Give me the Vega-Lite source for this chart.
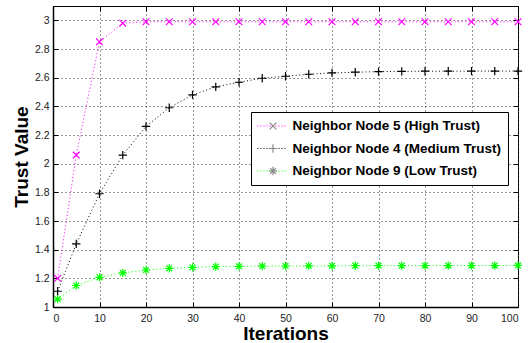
{
  "$schema": "https://vega.github.io/schema/vega-lite/v6.json",
  "width": 465,
  "height": 301,
  "autosize": "none",
  "padding": {"left": 53, "top": 6, "right": 11, "bottom": 36},
  "background": "white",
  "config": {
    "view": {"stroke": "black", "strokeWidth": 1},
    "font": "Liberation Sans"
  },
  "data": {
    "values": [
      {"series": "Neighbor Node 5 (High Trust)", "iter": 1, "trust": 1.2},
      {"series": "Neighbor Node 5 (High Trust)", "iter": 5, "trust": 2.06},
      {"series": "Neighbor Node 5 (High Trust)", "iter": 10, "trust": 2.85},
      {"series": "Neighbor Node 5 (High Trust)", "iter": 15, "trust": 2.98},
      {"series": "Neighbor Node 5 (High Trust)", "iter": 20, "trust": 2.99},
      {"series": "Neighbor Node 5 (High Trust)", "iter": 25, "trust": 2.99},
      {"series": "Neighbor Node 5 (High Trust)", "iter": 30, "trust": 2.99},
      {"series": "Neighbor Node 5 (High Trust)", "iter": 35, "trust": 2.99},
      {"series": "Neighbor Node 5 (High Trust)", "iter": 40, "trust": 2.99},
      {"series": "Neighbor Node 5 (High Trust)", "iter": 45, "trust": 2.99},
      {"series": "Neighbor Node 5 (High Trust)", "iter": 50, "trust": 2.99},
      {"series": "Neighbor Node 5 (High Trust)", "iter": 55, "trust": 2.99},
      {"series": "Neighbor Node 5 (High Trust)", "iter": 60, "trust": 2.99},
      {"series": "Neighbor Node 5 (High Trust)", "iter": 65, "trust": 2.99},
      {"series": "Neighbor Node 5 (High Trust)", "iter": 70, "trust": 2.99},
      {"series": "Neighbor Node 5 (High Trust)", "iter": 75, "trust": 2.99},
      {"series": "Neighbor Node 5 (High Trust)", "iter": 80, "trust": 2.99},
      {"series": "Neighbor Node 5 (High Trust)", "iter": 85, "trust": 2.99},
      {"series": "Neighbor Node 5 (High Trust)", "iter": 90, "trust": 2.99},
      {"series": "Neighbor Node 5 (High Trust)", "iter": 95, "trust": 2.99},
      {"series": "Neighbor Node 5 (High Trust)", "iter": 100, "trust": 2.99},
      {"series": "Neighbor Node 4 (Medium Trust)", "iter": 1, "trust": 1.11},
      {"series": "Neighbor Node 4 (Medium Trust)", "iter": 5, "trust": 1.44},
      {"series": "Neighbor Node 4 (Medium Trust)", "iter": 10, "trust": 1.79},
      {"series": "Neighbor Node 4 (Medium Trust)", "iter": 15, "trust": 2.06},
      {"series": "Neighbor Node 4 (Medium Trust)", "iter": 20, "trust": 2.26},
      {"series": "Neighbor Node 4 (Medium Trust)", "iter": 25, "trust": 2.39},
      {"series": "Neighbor Node 4 (Medium Trust)", "iter": 30, "trust": 2.48},
      {"series": "Neighbor Node 4 (Medium Trust)", "iter": 35, "trust": 2.536},
      {"series": "Neighbor Node 4 (Medium Trust)", "iter": 40, "trust": 2.568},
      {"series": "Neighbor Node 4 (Medium Trust)", "iter": 45, "trust": 2.596},
      {"series": "Neighbor Node 4 (Medium Trust)", "iter": 50, "trust": 2.61},
      {"series": "Neighbor Node 4 (Medium Trust)", "iter": 55, "trust": 2.624},
      {"series": "Neighbor Node 4 (Medium Trust)", "iter": 60, "trust": 2.633},
      {"series": "Neighbor Node 4 (Medium Trust)", "iter": 65, "trust": 2.638},
      {"series": "Neighbor Node 4 (Medium Trust)", "iter": 70, "trust": 2.642},
      {"series": "Neighbor Node 4 (Medium Trust)", "iter": 75, "trust": 2.644},
      {"series": "Neighbor Node 4 (Medium Trust)", "iter": 80, "trust": 2.645},
      {"series": "Neighbor Node 4 (Medium Trust)", "iter": 85, "trust": 2.645},
      {"series": "Neighbor Node 4 (Medium Trust)", "iter": 90, "trust": 2.646},
      {"series": "Neighbor Node 4 (Medium Trust)", "iter": 95, "trust": 2.646},
      {"series": "Neighbor Node 4 (Medium Trust)", "iter": 100, "trust": 2.646},
      {"series": "Neighbor Node 9 (Low Trust)", "iter": 1, "trust": 1.055},
      {"series": "Neighbor Node 9 (Low Trust)", "iter": 5, "trust": 1.15},
      {"series": "Neighbor Node 9 (Low Trust)", "iter": 10, "trust": 1.207},
      {"series": "Neighbor Node 9 (Low Trust)", "iter": 15, "trust": 1.238},
      {"series": "Neighbor Node 9 (Low Trust)", "iter": 20, "trust": 1.258},
      {"series": "Neighbor Node 9 (Low Trust)", "iter": 25, "trust": 1.27},
      {"series": "Neighbor Node 9 (Low Trust)", "iter": 30, "trust": 1.277},
      {"series": "Neighbor Node 9 (Low Trust)", "iter": 35, "trust": 1.281},
      {"series": "Neighbor Node 9 (Low Trust)", "iter": 40, "trust": 1.284},
      {"series": "Neighbor Node 9 (Low Trust)", "iter": 45, "trust": 1.285},
      {"series": "Neighbor Node 9 (Low Trust)", "iter": 50, "trust": 1.286},
      {"series": "Neighbor Node 9 (Low Trust)", "iter": 55, "trust": 1.287},
      {"series": "Neighbor Node 9 (Low Trust)", "iter": 60, "trust": 1.287},
      {"series": "Neighbor Node 9 (Low Trust)", "iter": 65, "trust": 1.288},
      {"series": "Neighbor Node 9 (Low Trust)", "iter": 70, "trust": 1.288},
      {"series": "Neighbor Node 9 (Low Trust)", "iter": 75, "trust": 1.288},
      {"series": "Neighbor Node 9 (Low Trust)", "iter": 80, "trust": 1.289},
      {"series": "Neighbor Node 9 (Low Trust)", "iter": 85, "trust": 1.289},
      {"series": "Neighbor Node 9 (Low Trust)", "iter": 90, "trust": 1.289},
      {"series": "Neighbor Node 9 (Low Trust)", "iter": 95, "trust": 1.289},
      {"series": "Neighbor Node 9 (Low Trust)", "iter": 100, "trust": 1.29}
    ]
  },
  "layer": [
    {
      "mark": {"type": "line", "strokeWidth": 1, "strokeDash": [1, 2.5], "clip": true},
      "encoding": {
        "x": {
          "field": "iter", "type": "quantitative",
          "scale": {"domain": [0, 100], "nice": false},
          "axis": {"orient": "top", "title": null, "labels": false, "grid": false, "domain": false,
                   "values": [0, 10, 20, 30, 40, 50, 60, 70, 80, 90, 100],
                   "tickSize": -5, "tickColor": "black", "tickWidth": 1}
        },
        "y": {
          "field": "trust", "type": "quantitative",
          "scale": {"domain": [1, 3.1], "nice": false, "zero": false},
          "axis": {"orient": "right", "title": null, "labels": false, "grid": false, "domain": false,
                   "values": [1, 1.2, 1.4, 1.6, 1.8, 2, 2.2, 2.4, 2.6, 2.8, 3],
                   "tickSize": -5, "tickColor": "black", "tickWidth": 1}
        },
        "color": {
          "field": "series", "type": "nominal",
          "sort": ["Neighbor Node 5 (High Trust)", "Neighbor Node 4 (Medium Trust)", "Neighbor Node 9 (Low Trust)"],
          "scale": {
            "domain": ["Neighbor Node 5 (High Trust)", "Neighbor Node 4 (Medium Trust)", "Neighbor Node 9 (Low Trust)"],
            "range": ["#ff00ff", "#000000", "#00ff00"]
          },
          "legend": {
            "orient": "none", "legendX": 198, "legendY": 106, "zindex": 1,
            "title": null, "symbolType": "stroke", "symbolSize": 784,
            "symbolStrokeWidth": 1, "symbolDash": [1, 2],
            "labelFont": "Liberation Sans", "labelFontSize": 13.5, "labelFontWeight": "bold",
            "labelColor": "black", "labelOffset": 6.5, "rowPadding": 6.5, "clipHeight": 16, "padding": 6,
            "strokeColor": "black", "fillColor": "white", "labelLimit": 400
          }
        }
      }
    },
    {
      "mark": {"type": "point", "filled": false, "strokeWidth": 1.2, "size": 70, "opacity": 1},
      "encoding": {
        "x": {
          "field": "iter", "type": "quantitative",
          "axis": {"orient": "bottom", "title": "Iterations",
                   "values": [0, 10, 20, 30, 40, 50, 60, 70, 80, 90, 100],
                   "grid": true, "gridColor": "#333", "gridDash": [1, 3], "gridWidth": 1,
                   "domainColor": "black", "domainWidth": 1.5,
                   "tickSize": -5, "tickColor": "black",
                   "labelFont": "Liberation Sans", "labelFontSize": 10.5, "labelColor": "#222", "labelPadding": 11.5,
                   "titleFont": "Liberation Sans", "titleFontSize": 19, "titleFontWeight": "bold",
                   "titleColor": "black", "titlePadding": 0}
        },
        "y": {
          "field": "trust", "type": "quantitative",
          "axis": {"orient": "left", "title": "Trust Value",
                   "values": [1, 1.2, 1.4, 1.6, 1.8, 2, 2.2, 2.4, 2.6, 2.8, 3],
                   "format": ".1~f",
                   "grid": true, "gridColor": "#333", "gridDash": [1, 3], "gridWidth": 1,
                   "domainColor": "black", "domainWidth": 1.5,
                   "tickSize": -5, "tickColor": "black",
                   "labelFont": "Liberation Sans", "labelFontSize": 10.5, "labelColor": "#222", "labelPadding": 9,
                   "titleFont": "Liberation Sans", "titleFontSize": 19, "titleFontWeight": "bold",
                   "titleColor": "black", "titlePadding": 2.5}
        },
        "color": {"field": "series", "type": "nominal", "legend": null},
        "shape": {
          "field": "series", "type": "nominal",
          "sort": ["Neighbor Node 5 (High Trust)", "Neighbor Node 4 (Medium Trust)", "Neighbor Node 9 (Low Trust)"],
          "scale": {
            "range": [
              "M-0.8,-0.8L0.8,0.8M-0.8,0.8L0.8,-0.8",
              "M0,-1L0,1M-1,0L1,0",
              "M0,-1L0,1M-1,0L1,0M-0.7,-0.7L0.7,0.7M-0.7,0.7L0.7,-0.7"
            ]
          },
          "legend": {
            "orient": "none", "legendX": 209, "legendY": 106, "zindex": 2,
            "title": null, "symbolStrokeWidth": 1.2, "symbolSize": 70, "symbolOpacity": 1,
            "labelExpr": "''", "labelOffset": 0, "rowPadding": 6.5, "clipHeight": 16, "padding": 6,
            "encode": {"symbols": {"update": {"stroke": {"scale": "color", "field": "value"}, "fill": {"value": "transparent"}, "opacity": {"value": 1}}}}
          }
        }
      }
    }
  ],
  "resolve": {
    "axis": {"x": "independent", "y": "independent"},
    "legend": {"color": "independent", "shape": "independent"}
  }
}
